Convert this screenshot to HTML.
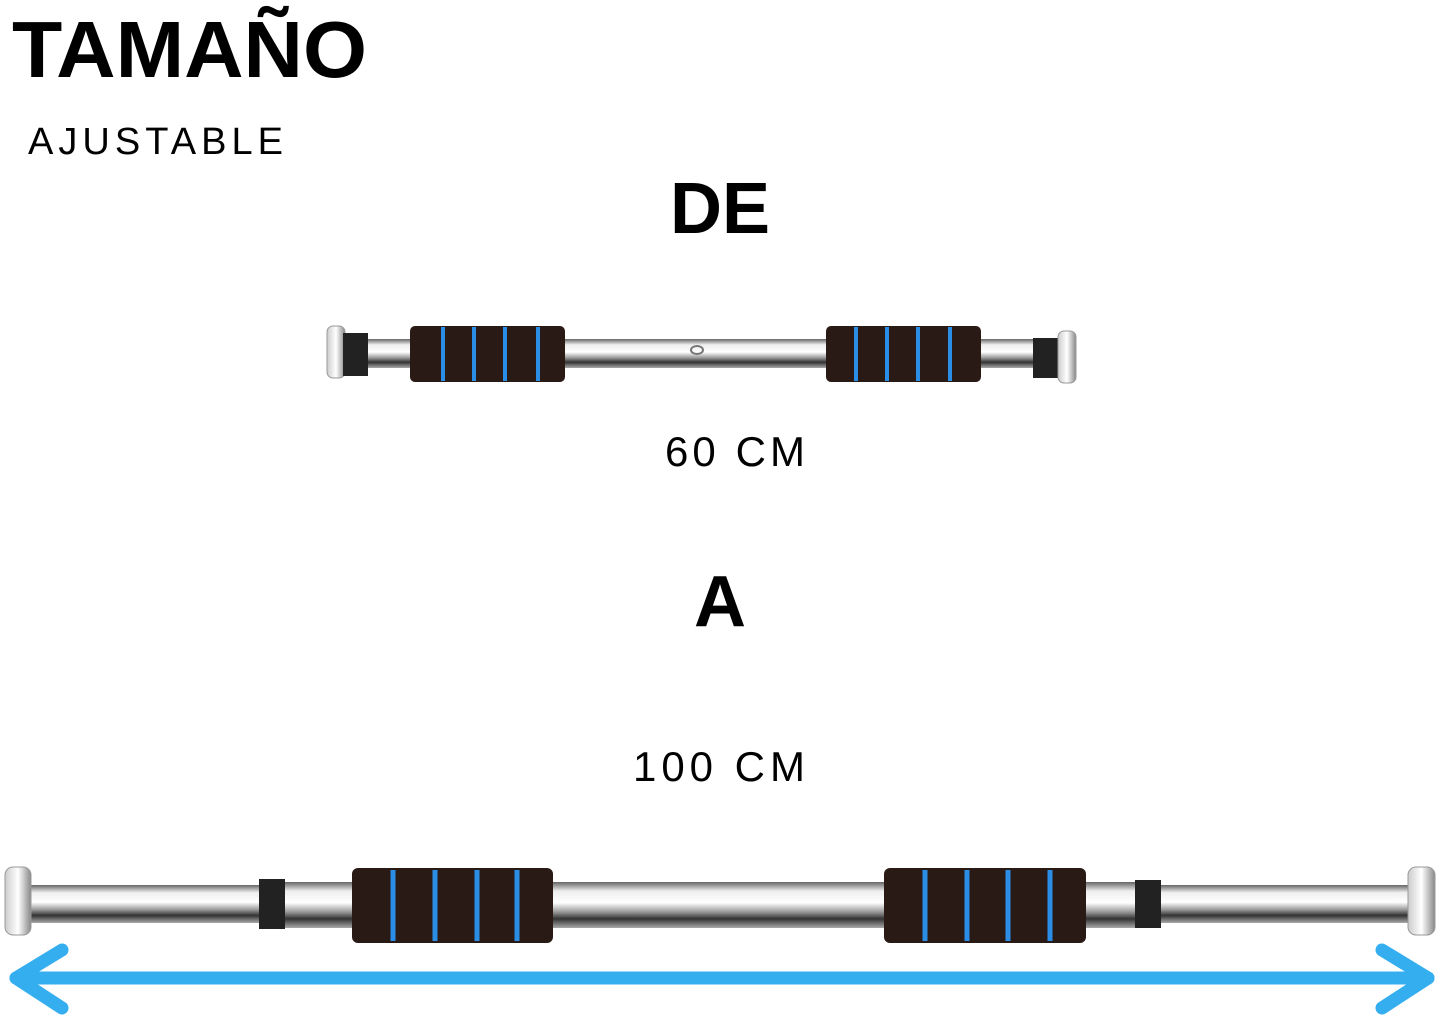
<!DOCTYPE html>
<html><head><meta charset="utf-8"><style>
html,body{margin:0;padding:0;background:#fff;}
svg{display:block;}
</style></head><body>
<svg width="1441" height="1020" viewBox="0 0 1441 1020" xmlns="http://www.w3.org/2000/svg">
<defs>
<linearGradient id="chrome" x1="0" y1="0" x2="0" y2="1">
<stop offset="0" stop-color="#666"/><stop offset="0.2" stop-color="#eee"/><stop offset="0.45" stop-color="#fff"/><stop offset="0.65" stop-color="#999"/><stop offset="0.8" stop-color="#333"/><stop offset="1" stop-color="#aaa"/>
</linearGradient>
<linearGradient id="cap" x1="0" y1="0" x2="1" y2="0">
<stop offset="0" stop-color="#ccc"/><stop offset="0.5" stop-color="#fff"/><stop offset="1" stop-color="#888"/>
</linearGradient>
</defs>
<g font-family="Liberation Sans, sans-serif" fill="#000">
<text x="12" y="77" font-size="80" font-weight="bold" textLength="355" lengthAdjust="spacingAndGlyphs">TAMAÑO</text>
<text x="28" y="154" font-size="38" textLength="255" lengthAdjust="spacing">AJUSTABLE</text>
<text x="720" y="233" font-size="72" font-weight="bold" text-anchor="middle">DE</text>
<text x="665" y="466" font-size="42" textLength="140" lengthAdjust="spacing">60 CM</text>
<text x="720" y="626" font-size="72" font-weight="bold" text-anchor="middle">A</text>
<text x="633" y="781" font-size="42" textLength="172" lengthAdjust="spacing">100 CM</text>
</g>
<!-- top bar -->
<rect x="345" y="339" width="715" height="29" fill="url(#chrome)"/>
<rect x="327" y="326" width="18" height="52" rx="6" fill="url(#cap)" stroke="#999"/>
<rect x="343" y="333" width="25" height="43" fill="#222"/>
<rect x="1033" y="338" width="25" height="40" fill="#222"/>
<rect x="1058" y="331" width="18" height="52" rx="6" fill="url(#cap)" stroke="#999"/>
<ellipse cx="697" cy="350" rx="6" ry="4" fill="none" stroke="#777" stroke-width="2"/>
<rect x="410" y="326" width="155" height="56" rx="5" fill="#2a1a16"/>
<rect x="826" y="326" width="155" height="56" rx="5" fill="#2a1a16"/>
<g stroke="#2a8ee6" stroke-width="4">
<line x1="443" y1="327" x2="443" y2="381"/><line x1="474" y1="327" x2="474" y2="381"/><line x1="505" y1="327" x2="505" y2="381"/><line x1="538" y1="327" x2="538" y2="381"/>
<line x1="856" y1="327" x2="856" y2="381"/><line x1="887" y1="327" x2="887" y2="381"/><line x1="918" y1="327" x2="918" y2="381"/><line x1="950" y1="327" x2="950" y2="381"/>
</g>
<!-- bottom bar -->
<rect x="28" y="885" width="1385" height="38" fill="url(#chrome)"/>
<rect x="285" y="882" width="870" height="46" fill="url(#chrome)"/>
<rect x="5" y="867" width="26" height="68" rx="8" fill="url(#cap)" stroke="#999"/>
<rect x="1408" y="867" width="27" height="68" rx="8" fill="url(#cap)" stroke="#999"/>
<rect x="259" y="879" width="26" height="50" fill="#222"/>
<rect x="1135" y="880" width="26" height="48" fill="#222"/>
<rect x="352" y="868" width="201" height="75" rx="6" fill="#2a1a16"/>
<rect x="884" y="868" width="202" height="75" rx="6" fill="#2a1a16"/>
<g stroke="#2a8ee6" stroke-width="5">
<line x1="393" y1="870" x2="393" y2="941"/><line x1="435" y1="870" x2="435" y2="941"/><line x1="477" y1="870" x2="477" y2="941"/><line x1="517" y1="870" x2="517" y2="941"/>
<line x1="925" y1="870" x2="925" y2="941"/><line x1="967" y1="870" x2="967" y2="941"/><line x1="1008" y1="870" x2="1008" y2="941"/><line x1="1050" y1="870" x2="1050" y2="941"/>
</g>
<!-- arrow -->
<g stroke="#35aef0" stroke-width="13" stroke-linecap="round" stroke-linejoin="round" fill="none">
<line x1="16" y1="978" x2="1428" y2="978"/>
<polyline points="62,950 16,978 62,1008"/>
<polyline points="1382,950 1428,978 1382,1008"/>
</g>
</svg>
</body></html>
